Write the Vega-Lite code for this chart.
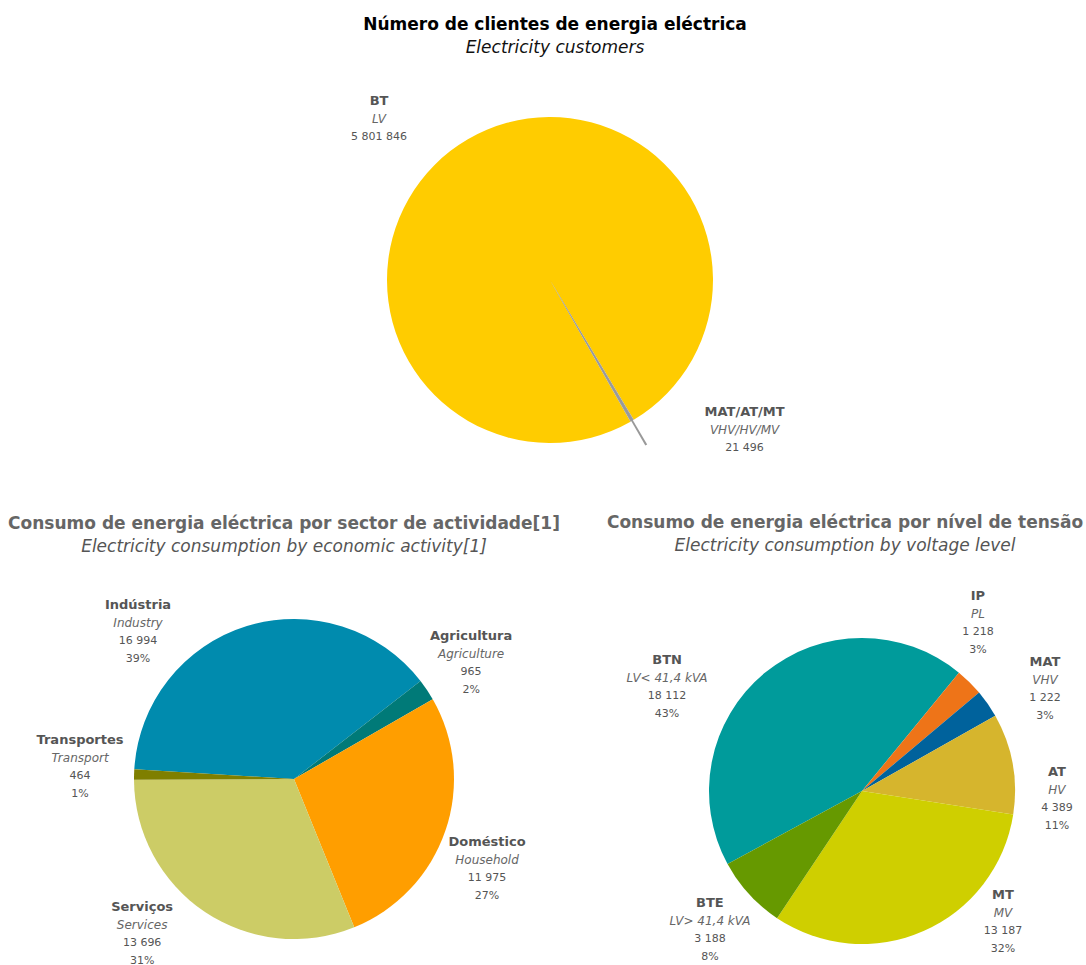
{
  "$schema": "https://vega.github.io/schema/vega-lite/v6.json",
  "padding": {"left": 8, "top": 16, "right": 0, "bottom": 0},
  "bounds": "flush",
  "spacing": 160,
  "resolve": {"scale": {"color": "independent", "theta": "independent"}},
  "config": {
    "view": {"stroke": null},
    "locale": {"number": {"decimal": ",", "thousands": " ", "grouping": [3], "currency": ["", " €"]}},
    "text": {"font": "DejaVu Sans"},
    "title": {"font": "DejaVu Sans", "fontSize": 17, "fontWeight": "bold", "subtitleFont": "DejaVu Sans", "subtitleFontSize": 17, "subtitleFontStyle": "italic", "subtitlePadding": 6, "anchor": "middle"}
  },
  "vconcat": [
    {
      "width": 1070, "height": 400,
      "title": {"text": "Número de clientes de energia eléctrica", "subtitle": "Electricity customers", "color": "#000000", "subtitleColor": "#111111", "offset": 23, "dx": 5},
      "data": {"values": [
        {"k": 1, "pt": "BT", "en": "LV", "value": 5801846},
        {"k": 2, "pt": "MAT/AT/MT", "en": "VHV/HV/MV", "value": 21496}
      ]},
      "transform": [{"stack": "value", "groupby": [], "sort": [{"field": "k", "order": "ascending"}], "as": ["v0", "v1"]}],
      "encoding": {
        "theta": {"field": "v0", "type": "quantitative", "stack": null, "scale": {"range": [2.625, 8.9082]}}
      },
      "layer": [
        {"mark": {"type": "arc", "outerRadius": 163}, "encoding": {"theta": {"field": "v1", "type": "quantitative", "stack": null, "scale": {"range": [2.625, 8.9082]}}, "theta2": {"field": "v0"}, "color": {"field": "pt", "type": "nominal", "scale": {"domain": ["BT", "MAT/AT/MT"], "range": ["#FFCC00", "#A0A0A0"]}, "legend": null}}},
        {"transform": [{"filter": "datum.k == 2"}], "mark": {"type": "arc", "outerRadius": 191, "padAngle": 0.012, "color": "#999999"}, "encoding": {"theta": {"field": "v1", "type": "quantitative", "stack": null, "scale": {"range": [2.625, 8.9082]}}, "theta2": {"field": "v0"}}},
        {"transform": [{"filter": "datum.k == 1"}], "layer": [
          {"mark": {"type": "text", "radius": 234.9, "thetaOffset": 2.843, "dy": -18, "fontSize": 13, "fontWeight": "bold", "color": "#555555"}, "encoding": {"text": {"field": "pt"}}},
          {"mark": {"type": "text", "radius": 234.9, "thetaOffset": 2.843, "dy": 0, "fontSize": 12, "fontStyle": "italic", "color": "#666666"}, "encoding": {"text": {"field": "en"}}},
          {"mark": {"type": "text", "radius": 234.9, "thetaOffset": 2.843, "dy": 18, "fontSize": 11, "color": "#555555"}, "encoding": {"text": {"field": "value", "type": "quantitative", "format": ",d"}}}
        ]},
        {"transform": [{"filter": "datum.k == 2"}], "layer": [
          {"mark": {"type": "text", "radius": 245.9, "thetaOffset": -0.373, "dy": -18, "fontSize": 13, "fontWeight": "bold", "color": "#555555"}, "encoding": {"text": {"field": "pt"}}},
          {"mark": {"type": "text", "radius": 245.9, "thetaOffset": -0.373, "dy": 0, "fontSize": 12, "fontStyle": "italic", "color": "#666666"}, "encoding": {"text": {"field": "en"}}},
          {"mark": {"type": "text", "radius": 245.9, "thetaOffset": -0.373, "dy": 18, "fontSize": 11, "color": "#555555"}, "encoding": {"text": {"field": "value", "type": "quantitative", "format": ",d"}}}
        ]}
      ]
    },
    {
      "bounds": "flush",
      "spacing": 66,
      "resolve": {"scale": {"color": "independent", "theta": "independent"}},
      "hconcat": [
        {
          "width": 558, "height": 278,
          "title": {"text": "Consumo de energia eléctrica por sector de actividade[1]", "subtitle": "Electricity consumption by economic activity[1]", "color": "#666666", "subtitleColor": "#555555", "offset": 43, "dx": -10},
          "data": {"values": [
            {"k": 1, "pt": "Indústria", "en": "Industry", "value": 16994, "share": 0.39},
            {"k": 2, "pt": "Agricultura", "en": "Agriculture", "value": 965, "share": 0.02},
            {"k": 3, "pt": "Doméstico", "en": "Household", "value": 11975, "share": 0.27},
            {"k": 4, "pt": "Serviços", "en": "Services", "value": 13696, "share": 0.31},
            {"k": 5, "pt": "Transportes", "en": "Transport", "value": 464, "share": 0.01}
          ]},
          "transform": [{"stack": "value", "groupby": [], "sort": [{"field": "k", "order": "ascending"}], "as": ["v0", "v1"]}],
          "encoding": {
            "theta": {"field": "v0", "type": "quantitative", "stack": null, "scale": {"range": [4.7735, 11.0567]}}
          },
          "layer": [
            {"mark": {"type": "arc", "outerRadius": 160}, "encoding": {"theta": {"field": "v1", "type": "quantitative", "stack": null, "scale": {"range": [4.7735, 11.0567]}}, "theta2": {"field": "v0"}, "color": {"field": "pt", "type": "nominal", "scale": {"domain": ["Indústria", "Agricultura", "Doméstico", "Serviços", "Transportes"], "range": ["#008BAE", "#007A78", "#FF9E00", "#CCCC66", "#7F7F00"]}, "legend": null}}},
            {"transform": [{"filter": "datum.k == 1"}], "layer": [
              {"mark": {"type": "text", "radius": 214.4, "thetaOffset": 0.695, "dy": -27, "fontSize": 13, "fontWeight": "bold", "color": "#555555"}, "encoding": {"text": {"field": "pt"}}},
              {"mark": {"type": "text", "radius": 214.4, "thetaOffset": 0.695, "dy": -9, "fontSize": 12, "fontStyle": "italic", "color": "#666666"}, "encoding": {"text": {"field": "en"}}},
              {"mark": {"type": "text", "radius": 214.4, "thetaOffset": 0.695, "dy": 9, "fontSize": 11, "color": "#555555"}, "encoding": {"text": {"field": "value", "type": "quantitative", "format": ",d"}}},
              {"mark": {"type": "text", "radius": 214.4, "thetaOffset": 0.695, "dy": 27, "fontSize": 11, "color": "#555555"}, "encoding": {"text": {"field": "share", "type": "quantitative", "format": ".0%"}}}
            ]},
            {"transform": [{"filter": "datum.k == 2"}], "layer": [
              {"mark": {"type": "text", "radius": 211.6, "thetaOffset": 0.08, "dy": -27, "fontSize": 13, "fontWeight": "bold", "color": "#555555"}, "encoding": {"text": {"field": "pt"}}},
              {"mark": {"type": "text", "radius": 211.6, "thetaOffset": 0.08, "dy": -9, "fontSize": 12, "fontStyle": "italic", "color": "#666666"}, "encoding": {"text": {"field": "en"}}},
              {"mark": {"type": "text", "radius": 211.6, "thetaOffset": 0.08, "dy": 9, "fontSize": 11, "color": "#555555"}, "encoding": {"text": {"field": "value", "type": "quantitative", "format": ",d"}}},
              {"mark": {"type": "text", "radius": 211.6, "thetaOffset": 0.08, "dy": 27, "fontSize": 11, "color": "#555555"}, "encoding": {"text": {"field": "share", "type": "quantitative", "format": ".0%"}}}
            ]},
            {"transform": [{"filter": "datum.k == 3"}], "layer": [
              {"mark": {"type": "text", "radius": 213, "thetaOffset": 0.958, "dy": -27, "fontSize": 13, "fontWeight": "bold", "color": "#555555"}, "encoding": {"text": {"field": "pt"}}},
              {"mark": {"type": "text", "radius": 213, "thetaOffset": 0.958, "dy": -9, "fontSize": 12, "fontStyle": "italic", "color": "#666666"}, "encoding": {"text": {"field": "en"}}},
              {"mark": {"type": "text", "radius": 213, "thetaOffset": 0.958, "dy": 9, "fontSize": 11, "color": "#555555"}, "encoding": {"text": {"field": "value", "type": "quantitative", "format": ",d"}}},
              {"mark": {"type": "text", "radius": 213, "thetaOffset": 0.958, "dy": 27, "fontSize": 11, "color": "#555555"}, "encoding": {"text": {"field": "share", "type": "quantitative", "format": ".0%"}}}
            ]},
            {"transform": [{"filter": "datum.k == 4"}], "layer": [
              {"mark": {"type": "text", "radius": 217, "thetaOffset": 1.161, "dy": -27, "fontSize": 13, "fontWeight": "bold", "color": "#555555"}, "encoding": {"text": {"field": "pt"}}},
              {"mark": {"type": "text", "radius": 217, "thetaOffset": 1.161, "dy": -9, "fontSize": 12, "fontStyle": "italic", "color": "#666666"}, "encoding": {"text": {"field": "en"}}},
              {"mark": {"type": "text", "radius": 217, "thetaOffset": 1.161, "dy": 9, "fontSize": 11, "color": "#555555"}, "encoding": {"text": {"field": "value", "type": "quantitative", "format": ",d"}}},
              {"mark": {"type": "text", "radius": 217, "thetaOffset": 1.161, "dy": 27, "fontSize": 11, "color": "#555555"}, "encoding": {"text": {"field": "share", "type": "quantitative", "format": ".0%"}}}
            ]},
            {"transform": [{"filter": "datum.k == 5"}], "layer": [
              {"mark": {"type": "text", "radius": 214.3, "thetaOffset": 0.061, "dy": -27, "fontSize": 13, "fontWeight": "bold", "color": "#555555"}, "encoding": {"text": {"field": "pt"}}},
              {"mark": {"type": "text", "radius": 214.3, "thetaOffset": 0.061, "dy": -9, "fontSize": 12, "fontStyle": "italic", "color": "#666666"}, "encoding": {"text": {"field": "en"}}},
              {"mark": {"type": "text", "radius": 214.3, "thetaOffset": 0.061, "dy": 9, "fontSize": 11, "color": "#555555"}, "encoding": {"text": {"field": "value", "type": "quantitative", "format": ",d"}}},
              {"mark": {"type": "text", "radius": 214.3, "thetaOffset": 0.061, "dy": 27, "fontSize": 11, "color": "#555555"}, "encoding": {"text": {"field": "share", "type": "quantitative", "format": ".0%"}}}
            ]}
          ]
        },
        {
          "width": 446, "height": 302,
          "title": {"text": "Consumo de energia eléctrica por nível de tensão", "subtitle": "Electricity consumption by voltage level", "color": "#666666", "subtitleColor": "#555555", "offset": 35, "dx": -17},
          "data": {"values": [
            {"k": 1, "pt": "BTN", "en": "LV< 41,4 kVA", "value": 18112, "share": 0.43},
            {"k": 2, "pt": "IP", "en": "PL", "value": 1218, "share": 0.03},
            {"k": 3, "pt": "MAT", "en": "VHV", "value": 1222, "share": 0.03},
            {"k": 4, "pt": "AT", "en": "HV", "value": 4389, "share": 0.11},
            {"k": 5, "pt": "MT", "en": "MV", "value": 13187, "share": 0.32},
            {"k": 6, "pt": "BTE", "en": "LV> 41,4 kVA", "value": 3188, "share": 0.08}
          ]},
          "transform": [{"stack": "value", "groupby": [], "sort": [{"field": "k", "order": "ascending"}], "as": ["v0", "v1"]}],
          "encoding": {
            "theta": {"field": "v0", "type": "quantitative", "stack": null, "scale": {"range": [4.215, 10.4982]}}
          },
          "layer": [
            {"mark": {"type": "arc", "outerRadius": 153}, "encoding": {"theta": {"field": "v1", "type": "quantitative", "stack": null, "scale": {"range": [4.215, 10.4982]}}, "theta2": {"field": "v0"}, "color": {"field": "pt", "type": "nominal", "scale": {"domain": ["BTN", "IP", "MAT", "AT", "MT", "BTE"], "range": ["#009B9B", "#EE7418", "#00629C", "#D6B52D", "#CFCF00", "#669900"]}, "legend": null}}},
            {"transform": [{"filter": "datum.k == 1"}], "layer": [
              {"mark": {"type": "text", "radius": 221, "thetaOffset": 0.988, "dy": -27, "fontSize": 13, "fontWeight": "bold", "color": "#555555"}, "encoding": {"text": {"field": "pt"}}},
              {"mark": {"type": "text", "radius": 221, "thetaOffset": 0.988, "dy": -9, "fontSize": 12, "fontStyle": "italic", "color": "#666666"}, "encoding": {"text": {"field": "en"}}},
              {"mark": {"type": "text", "radius": 221, "thetaOffset": 0.988, "dy": 9, "fontSize": 11, "color": "#555555"}, "encoding": {"text": {"field": "value", "type": "quantitative", "format": ",d"}}},
              {"mark": {"type": "text", "radius": 221, "thetaOffset": 0.988, "dy": 27, "fontSize": 11, "color": "#555555"}, "encoding": {"text": {"field": "share", "type": "quantitative", "format": ".0%"}}}
            ]},
            {"transform": [{"filter": "datum.k == 2"}], "layer": [
              {"mark": {"type": "text", "radius": 203.7, "thetaOffset": -0.081, "dy": -27, "fontSize": 13, "fontWeight": "bold", "color": "#555555"}, "encoding": {"text": {"field": "pt"}}},
              {"mark": {"type": "text", "radius": 203.7, "thetaOffset": -0.081, "dy": -9, "fontSize": 12, "fontStyle": "italic", "color": "#666666"}, "encoding": {"text": {"field": "en"}}},
              {"mark": {"type": "text", "radius": 203.7, "thetaOffset": -0.081, "dy": 9, "fontSize": 11, "color": "#555555"}, "encoding": {"text": {"field": "value", "type": "quantitative", "format": ",d"}}},
              {"mark": {"type": "text", "radius": 203.7, "thetaOffset": -0.081, "dy": 27, "fontSize": 11, "color": "#555555"}, "encoding": {"text": {"field": "share", "type": "quantitative", "format": ".0%"}}}
            ]},
            {"transform": [{"filter": "datum.k == 3"}], "layer": [
              {"mark": {"type": "text", "radius": 209.3, "thetaOffset": 0.193, "dy": -27, "fontSize": 13, "fontWeight": "bold", "color": "#555555"}, "encoding": {"text": {"field": "pt"}}},
              {"mark": {"type": "text", "radius": 209.3, "thetaOffset": 0.193, "dy": -9, "fontSize": 12, "fontStyle": "italic", "color": "#666666"}, "encoding": {"text": {"field": "en"}}},
              {"mark": {"type": "text", "radius": 209.3, "thetaOffset": 0.193, "dy": 9, "fontSize": 11, "color": "#555555"}, "encoding": {"text": {"field": "value", "type": "quantitative", "format": ",d"}}},
              {"mark": {"type": "text", "radius": 209.3, "thetaOffset": 0.193, "dy": 27, "fontSize": 11, "color": "#555555"}, "encoding": {"text": {"field": "share", "type": "quantitative", "format": ".0%"}}}
            ]},
            {"transform": [{"filter": "datum.k == 4"}], "layer": [
              {"mark": {"type": "text", "radius": 195.1, "thetaOffset": 0.552, "dy": -27, "fontSize": 13, "fontWeight": "bold", "color": "#555555"}, "encoding": {"text": {"field": "pt"}}},
              {"mark": {"type": "text", "radius": 195.1, "thetaOffset": 0.552, "dy": -9, "fontSize": 12, "fontStyle": "italic", "color": "#666666"}, "encoding": {"text": {"field": "en"}}},
              {"mark": {"type": "text", "radius": 195.1, "thetaOffset": 0.552, "dy": 9, "fontSize": 11, "color": "#555555"}, "encoding": {"text": {"field": "value", "type": "quantitative", "format": ",d"}}},
              {"mark": {"type": "text", "radius": 195.1, "thetaOffset": 0.552, "dy": 27, "fontSize": 11, "color": "#555555"}, "encoding": {"text": {"field": "share", "type": "quantitative", "format": ".0%"}}}
            ]},
            {"transform": [{"filter": "datum.k == 5"}], "layer": [
              {"mark": {"type": "text", "radius": 192.1, "thetaOffset": 0.593, "dy": -27, "fontSize": 13, "fontWeight": "bold", "color": "#555555"}, "encoding": {"text": {"field": "pt"}}},
              {"mark": {"type": "text", "radius": 192.1, "thetaOffset": 0.593, "dy": -9, "fontSize": 12, "fontStyle": "italic", "color": "#666666"}, "encoding": {"text": {"field": "en"}}},
              {"mark": {"type": "text", "radius": 192.1, "thetaOffset": 0.593, "dy": 9, "fontSize": 11, "color": "#555555"}, "encoding": {"text": {"field": "value", "type": "quantitative", "format": ",d"}}},
              {"mark": {"type": "text", "radius": 192.1, "thetaOffset": 0.593, "dy": 27, "fontSize": 11, "color": "#555555"}, "encoding": {"text": {"field": "share", "type": "quantitative", "format": ".0%"}}}
            ]},
            {"transform": [{"filter": "datum.k == 6"}], "layer": [
              {"mark": {"type": "text", "radius": 206, "thetaOffset": 0.242, "dy": -27, "fontSize": 13, "fontWeight": "bold", "color": "#555555"}, "encoding": {"text": {"field": "pt"}}},
              {"mark": {"type": "text", "radius": 206, "thetaOffset": 0.242, "dy": -9, "fontSize": 12, "fontStyle": "italic", "color": "#666666"}, "encoding": {"text": {"field": "en"}}},
              {"mark": {"type": "text", "radius": 206, "thetaOffset": 0.242, "dy": 9, "fontSize": 11, "color": "#555555"}, "encoding": {"text": {"field": "value", "type": "quantitative", "format": ",d"}}},
              {"mark": {"type": "text", "radius": 206, "thetaOffset": 0.242, "dy": 27, "fontSize": 11, "color": "#555555"}, "encoding": {"text": {"field": "share", "type": "quantitative", "format": ".0%"}}}
            ]}
          ]
        }
      ]
    }
  ]
}
